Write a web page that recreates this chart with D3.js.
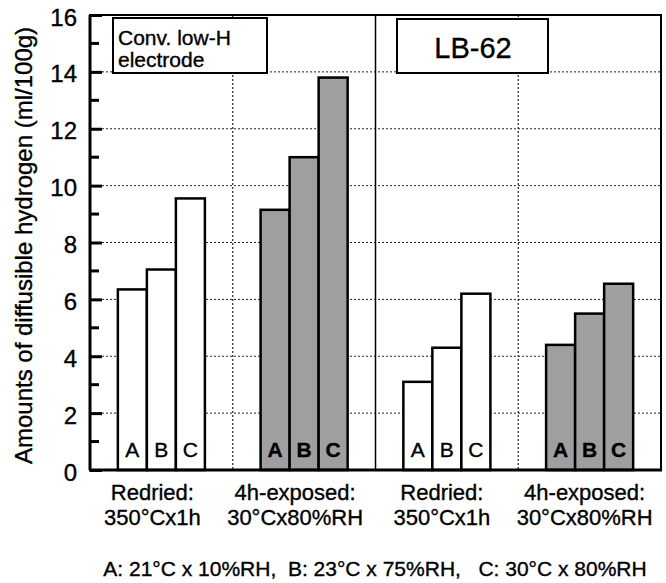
<!DOCTYPE html>
<html>
<head>
<meta charset="utf-8">
<script src="https://cdnjs.cloudflare.com/ajax/libs/d3/7.8.5/d3.min.js"></script>
<style>
  body { margin: 0; background: #fff; }
  text { font-family: "Liberation Sans", Arial, sans-serif; fill: #000; stroke: #000; stroke-width: 0.35px; }
</style>
</head>
<body>
<svg id="chart" width="666" height="583"></svg>
<script>
// data
var groups = ["conv-redried", "conv-exposed", "lb-redried", "lb-exposed"];
var groupLines = [
    ["Redried:", "350°Cx1h"],
    ["4h-exposed:", "30°Cx80%RH"],
    ["Redried:", "350°Cx1h"],
    ["4h-exposed:", "30°Cx80%RH"]
];
var conditions = ["A", "B", "C"];
var convRedried = [6.35, 7.05, 9.55];
var convExposed = [9.15, 11.0, 13.8];
var lbRedried = [3.1, 4.3, 6.2];
var lbExposed = [4.4, 5.5, 6.55];
var exposedGroup = [false, true, false, true];
var yTicks = [0, 2, 4, 6, 8, 10, 12, 14, 16];
var yMinor = [1, 3, 5, 7, 9, 11, 13, 15];

var series = [convRedried, convExposed, lbRedried, lbExposed];

var svg = d3.select("#chart");
var pLeft = 90, pRight = 661, pTop = 15, pBottom = 470;

var x = d3.scaleBand().domain(groups).range([pLeft, pRight]).padding(0);
var xi = d3.scaleBand().domain(conditions).range([0, x.bandwidth()])
    .paddingInner(0).paddingOuter(0.96);
var y = d3.scaleLinear().domain([0, 16]).range([pBottom, pTop]);

// dotted grid
svg.append("g")
    .selectAll("line")
    .data(yTicks.filter(function (d) { return d > 0 && d < 16; }))
    .enter().append("line")
    .attr("x1", pLeft).attr("x2", pRight)
    .attr("y1", function (d) { return y(d); })
    .attr("y2", function (d) { return y(d); })
    .attr("stroke", "#222").attr("stroke-width", 1)
    .attr("stroke-dasharray", "2,2");

// vertical dotted lines in the middle of each panel
svg.append("g")
    .selectAll("line")
    .data([groups[1], groups[3]])
    .enter().append("line")
    .attr("x1", function (d) { return x(d); })
    .attr("x2", function (d) { return x(d); })
    .attr("y1", pTop).attr("y2", pBottom)
    .attr("stroke", "#222").attr("stroke-width", 1.2)
    .attr("stroke-dasharray", "2,2");

// solid divider between the two electrodes
svg.append("line")
    .attr("x1", x(groups[2])).attr("x2", x(groups[2]))
    .attr("y1", pTop).attr("y2", pBottom)
    .attr("stroke", "#000").attr("stroke-width", 1.5);

// bars
var gBars = svg.append("g");
series.forEach(function (vals, gi) {
    var g = gBars.append("g").attr("transform", "translate(" + x(groups[gi]) + ",0)");
    g.selectAll("rect")
        .data(vals)
        .enter().append("rect")
        .attr("x", function (d, i) { return xi(conditions[i]); })
        .attr("y", function (d) { return y(d); })
        .attr("width", xi.bandwidth())
        .attr("height", function (d) { return y(0) - y(d); })
        .attr("fill", exposedGroup[gi] ? "#9f9f9f" : "#fff")
        .attr("stroke", "#000").attr("stroke-width", 2.5);
    g.selectAll("text")
        .data(vals)
        .enter().append("text")
        .attr("x", function (d, i) { return xi(conditions[i]) + xi.bandwidth() / 2; })
        .attr("y", y(0) - 13)
        .attr("text-anchor", "middle")
        .style("font-size", "21px")
        .style("font-weight", exposedGroup[gi] ? "bold" : "normal")
        .text(function (d, i) { return conditions[i]; });
});

// frame
svg.append("rect")
    .attr("x", pLeft).attr("y", pTop)
    .attr("width", pRight - pLeft).attr("height", pBottom - pTop)
    .attr("fill", "none").attr("stroke", "#000").attr("stroke-width", 2);
svg.append("line")
    .attr("x1", pLeft - 1).attr("x2", pRight + 1)
    .attr("y1", pBottom).attr("y2", pBottom)
    .attr("stroke", "#000").attr("stroke-width", 3);
svg.append("line")
    .attr("x1", pLeft).attr("x2", pLeft)
    .attr("y1", pTop).attr("y2", pBottom)
    .attr("stroke", "#000").attr("stroke-width", 3);

// y axis ticks, inward
var yAxis = d3.axisLeft(y).tickValues(yTicks).tickSize(-12).tickPadding(13);
var ya = svg.append("g")
    .attr("transform", "translate(" + pLeft + ",0)")
    .call(yAxis);
ya.select(".domain").remove();
ya.selectAll(".tick line").attr("stroke", "#000").attr("stroke-width", 3);
ya.selectAll(".tick text")
    .style("font-size", "24px")
    .style("font-family", "'Liberation Sans', Arial, sans-serif")
    .attr("dy", "0.42em")
    .attr("fill", "#000");

svg.append("g")
    .selectAll("line")
    .data(yMinor)
    .enter().append("line")
    .attr("x1", pLeft).attr("x2", pLeft + 9)
    .attr("y1", function (d) { return y(d); })
    .attr("y2", function (d) { return y(d); })
    .attr("stroke", "#000").attr("stroke-width", 3);

// y axis title
svg.append("text")
    .attr("transform", "translate(32," + ((pTop + pBottom) / 2 + 3) + ") rotate(-90)")
    .attr("text-anchor", "middle")
    .style("font-size", "24px")
    .text("Amounts of diffusible hydrogen (ml/100g)");

// group labels, two lines each
groups.forEach(function (gname, gi) {
    var cx = x(gname) + x.bandwidth() / 2 - (gi < 2 ? 9 : 5);
    svg.append("text")
        .attr("x", cx).attr("y", 500)
        .attr("text-anchor", "middle")
        .style("font-size", "22px")
        .text(groupLines[gi][0]);
    svg.append("text")
        .attr("x", cx).attr("y", 525)
        .attr("text-anchor", "middle")
        .style("font-size", "22px")
        .text(groupLines[gi][1]);
});

// legend boxes
svg.append("rect")
    .attr("x", 113).attr("y", 18).attr("width", 154).attr("height", 55)
    .attr("fill", "#fff").attr("stroke", "#000").attr("stroke-width", 2);
svg.append("text").attr("x", 118).attr("y", 45)
    .style("font-size", "21px").text("Conv. low-H");
svg.append("text").attr("x", 118).attr("y", 67)
    .style("font-size", "21px").text("electrode");

svg.append("rect")
    .attr("x", 397).attr("y", 19).attr("width", 151).attr("height", 54)
    .attr("fill", "#fff").attr("stroke", "#000").attr("stroke-width", 2);
svg.append("text").attr("x", 473).attr("y", 58)
    .attr("text-anchor", "middle")
    .style("font-size", "29px").text("LB-62");

// footnote
svg.append("text")
    .attr("x", 375).attr("y", 576)
    .attr("text-anchor", "middle")
    .style("font-size", "21px")
    .attr("xml:space", "preserve")
    .text("A: 21°C x 10%RH,  B: 23°C x 75%RH,   C: 30°C x 80%RH");
</script>
</body>
</html>
